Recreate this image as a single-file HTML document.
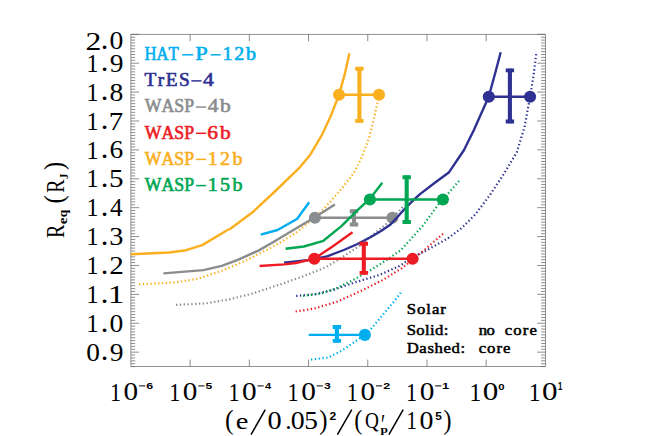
<!DOCTYPE html>
<html><head><meta charset="utf-8"><title>Req vs tidal parameter</title>
<style>
html,body{margin:0;padding:0;background:#fff;}
body{width:654px;height:436px;overflow:hidden;}
text{font-kerning:none;}
svg{display:block;position:absolute;left:0;top:0;font-family:"Liberation Serif",serif;}
</style></head><body>
<svg width="654" height="436" viewBox="0 0 654 436">
<rect width="654" height="436" fill="#fff"/>
<path d="M130.90 366.60h4.3M545.40 366.60h-4.3M130.90 363.71h4.3M545.40 363.71h-4.3M130.90 360.82h4.3M545.40 360.82h-4.3M130.90 357.93h4.3M545.40 357.93h-4.3M130.90 355.04h4.3M545.40 355.04h-4.3M130.90 352.15h8.2M545.40 352.15h-8.2M130.90 349.26h4.3M545.40 349.26h-4.3M130.90 346.37h4.3M545.40 346.37h-4.3M130.90 343.48h4.3M545.40 343.48h-4.3M130.90 340.59h4.3M545.40 340.59h-4.3M130.90 337.70h4.3M545.40 337.70h-4.3M130.90 334.81h4.3M545.40 334.81h-4.3M130.90 331.93h4.3M545.40 331.93h-4.3M130.90 329.04h4.3M545.40 329.04h-4.3M130.90 326.15h4.3M545.40 326.15h-4.3M130.90 323.26h8.2M545.40 323.26h-8.2M130.90 320.37h4.3M545.40 320.37h-4.3M130.90 317.48h4.3M545.40 317.48h-4.3M130.90 314.59h4.3M545.40 314.59h-4.3M130.90 311.70h4.3M545.40 311.70h-4.3M130.90 308.81h4.3M545.40 308.81h-4.3M130.90 305.92h4.3M545.40 305.92h-4.3M130.90 303.03h4.3M545.40 303.03h-4.3M130.90 300.14h4.3M545.40 300.14h-4.3M130.90 297.25h4.3M545.40 297.25h-4.3M130.90 294.36h8.2M545.40 294.36h-8.2M130.90 291.47h4.3M545.40 291.47h-4.3M130.90 288.58h4.3M545.40 288.58h-4.3M130.90 285.69h4.3M545.40 285.69h-4.3M130.90 282.80h4.3M545.40 282.80h-4.3M130.90 279.91h4.3M545.40 279.91h-4.3M130.90 277.02h4.3M545.40 277.02h-4.3M130.90 274.13h4.3M545.40 274.13h-4.3M130.90 271.24h4.3M545.40 271.24h-4.3M130.90 268.35h4.3M545.40 268.35h-4.3M130.90 265.47h8.2M545.40 265.47h-8.2M130.90 262.58h4.3M545.40 262.58h-4.3M130.90 259.69h4.3M545.40 259.69h-4.3M130.90 256.80h4.3M545.40 256.80h-4.3M130.90 253.91h4.3M545.40 253.91h-4.3M130.90 251.02h4.3M545.40 251.02h-4.3M130.90 248.13h4.3M545.40 248.13h-4.3M130.90 245.24h4.3M545.40 245.24h-4.3M130.90 242.35h4.3M545.40 242.35h-4.3M130.90 239.46h4.3M545.40 239.46h-4.3M130.90 236.57h8.2M545.40 236.57h-8.2M130.90 233.68h4.3M545.40 233.68h-4.3M130.90 230.79h4.3M545.40 230.79h-4.3M130.90 227.90h4.3M545.40 227.90h-4.3M130.90 225.01h4.3M545.40 225.01h-4.3M130.90 222.12h4.3M545.40 222.12h-4.3M130.90 219.23h4.3M545.40 219.23h-4.3M130.90 216.34h4.3M545.40 216.34h-4.3M130.90 213.45h4.3M545.40 213.45h-4.3M130.90 210.56h4.3M545.40 210.56h-4.3M130.90 207.67h8.2M545.40 207.67h-8.2M130.90 204.78h4.3M545.40 204.78h-4.3M130.90 201.89h4.3M545.40 201.89h-4.3M130.90 199.01h4.3M545.40 199.01h-4.3M130.90 196.12h4.3M545.40 196.12h-4.3M130.90 193.23h4.3M545.40 193.23h-4.3M130.90 190.34h4.3M545.40 190.34h-4.3M130.90 187.45h4.3M545.40 187.45h-4.3M130.90 184.56h4.3M545.40 184.56h-4.3M130.90 181.67h4.3M545.40 181.67h-4.3M130.90 178.78h8.2M545.40 178.78h-8.2M130.90 175.89h4.3M545.40 175.89h-4.3M130.90 173.00h4.3M545.40 173.00h-4.3M130.90 170.11h4.3M545.40 170.11h-4.3M130.90 167.22h4.3M545.40 167.22h-4.3M130.90 164.33h4.3M545.40 164.33h-4.3M130.90 161.44h4.3M545.40 161.44h-4.3M130.90 158.55h4.3M545.40 158.55h-4.3M130.90 155.66h4.3M545.40 155.66h-4.3M130.90 152.77h4.3M545.40 152.77h-4.3M130.90 149.88h8.2M545.40 149.88h-8.2M130.90 146.99h4.3M545.40 146.99h-4.3M130.90 144.10h4.3M545.40 144.10h-4.3M130.90 141.21h4.3M545.40 141.21h-4.3M130.90 138.32h4.3M545.40 138.32h-4.3M130.90 135.43h4.3M545.40 135.43h-4.3M130.90 132.55h4.3M545.40 132.55h-4.3M130.90 129.66h4.3M545.40 129.66h-4.3M130.90 126.77h4.3M545.40 126.77h-4.3M130.90 123.88h4.3M545.40 123.88h-4.3M130.90 120.99h8.2M545.40 120.99h-8.2M130.90 118.10h4.3M545.40 118.10h-4.3M130.90 115.21h4.3M545.40 115.21h-4.3M130.90 112.32h4.3M545.40 112.32h-4.3M130.90 109.43h4.3M545.40 109.43h-4.3M130.90 106.54h4.3M545.40 106.54h-4.3M130.90 103.65h4.3M545.40 103.65h-4.3M130.90 100.76h4.3M545.40 100.76h-4.3M130.90 97.87h4.3M545.40 97.87h-4.3M130.90 94.98h4.3M545.40 94.98h-4.3M130.90 92.09h8.2M545.40 92.09h-8.2M130.90 89.20h4.3M545.40 89.20h-4.3M130.90 86.31h4.3M545.40 86.31h-4.3M130.90 83.42h4.3M545.40 83.42h-4.3M130.90 80.53h4.3M545.40 80.53h-4.3M130.90 77.64h4.3M545.40 77.64h-4.3M130.90 74.75h4.3M545.40 74.75h-4.3M130.90 71.86h4.3M545.40 71.86h-4.3M130.90 68.97h4.3M545.40 68.97h-4.3M130.90 66.09h4.3M545.40 66.09h-4.3M130.90 63.20h8.2M545.40 63.20h-8.2M130.90 60.31h4.3M545.40 60.31h-4.3M130.90 57.42h4.3M545.40 57.42h-4.3M130.90 54.53h4.3M545.40 54.53h-4.3M130.90 51.64h4.3M545.40 51.64h-4.3M130.90 48.75h4.3M545.40 48.75h-4.3M130.90 45.86h4.3M545.40 45.86h-4.3M130.90 42.97h4.3M545.40 42.97h-4.3M130.90 40.08h4.3M545.40 40.08h-4.3M130.90 37.19h4.3M545.40 37.19h-4.3M130.90 34.30h8.2M545.40 34.30h-8.2M190.11 34.30v7M190.11 366.60v-7M249.33 34.30v7M249.33 366.60v-7M308.54 34.30v7M308.54 366.60v-7M367.76 34.30v7M367.76 366.60v-7M426.97 34.30v7M426.97 366.60v-7M486.19 34.30v7M486.19 366.60v-7" stroke="#505050" stroke-width="0.65" fill="none"/>
<rect x="130.9" y="34.3" width="414.50" height="332.30" fill="none" stroke="#666" stroke-width="0.7"/>
<path d="M139.0 284.4 L175.9 282.3 L198.8 278.6 L221.7 270.8 L244.7 261.0 L267.6 249.5 L280.0 242.6 L295.9 232.8 L318.8 214.4 L337.2 193.8 L342.6 187.5 L354.1 172.6 L362.1 156.5 L369.0 138.2 L373.6 119.8 L377.5 102.6 L378.6 96.0" fill="none" stroke="#FAAF1E" stroke-width="2.2" stroke-linejoin="round" stroke-dasharray="1.35 2.47"/>
<path d="M131.0 254.3 L169.0 252.5 L186.2 250.2 L202.2 245.1 L227.5 230.0 L230.0 229.0 L252.9 212.0 L275.9 190.5 L298.8 168.4 L310.3 154.7 L321.7 135.4 L330.9 115.7 L339.2 94.1 L344.7 74.4 L349.4 53.2" fill="none" stroke="#FAAF1E" stroke-width="2.4" stroke-linejoin="round"/>
<path d="M339 94.7H379" stroke="#FAAF1E" stroke-width="2.4" fill="none"/>
<path d="M359.4 67.10000000000001V122.5" stroke="#FAAF1E" stroke-width="4.1" fill="none"/>
<path d="M355.2 68.75000000000001h8.4M355.2 120.85h8.4" stroke="#FAAF1E" stroke-width="3.9" fill="none"/>
<circle cx="339" cy="94.7" r="6.05" fill="#FAAF1E"/>
<circle cx="379" cy="94.7" r="6.05" fill="#FAAF1E"/>
<path d="M176.0 304.9 L205.7 303.4 L228.6 299.5 L251.6 293.8 L280.0 284.5 L302.9 276.4 L325.9 267.2 L341.9 257.5 L359.6 245.7 L375.4 232.6 L385.0 225.0 L399.5 210.6 L404.3 204.9" fill="none" stroke="#8A8C8E" stroke-width="2.2" stroke-linejoin="round" stroke-dasharray="1.35 2.47"/>
<path d="M163.4 273.4 L203.4 270.1 L221.7 265.8 L237.8 259.8 L258.4 250.6 L273.0 242.3 L295.9 228.5 L314.9 217.3 L334.9 204.5" fill="none" stroke="#8A8C8E" stroke-width="2.4" stroke-linejoin="round"/>
<path d="M314.9 217.7H392.4" stroke="#8A8C8E" stroke-width="2.4" fill="none"/>
<path d="M354.0 209.6V226.10000000000002" stroke="#8A8C8E" stroke-width="4.1" fill="none"/>
<path d="M349.8 211.25h8.4M349.8 224.45000000000002h8.4" stroke="#8A8C8E" stroke-width="3.9" fill="none"/>
<circle cx="314.9" cy="217.7" r="6.05" fill="#8A8C8E"/>
<circle cx="392.4" cy="217.7" r="6.05" fill="#8A8C8E"/>
<path d="M311.0 359.6 L328.2 357.5 L341.9 350.6 L358.0 339.6 L371.7 328.2 L383.2 314.4 L394.7 300.5 L400.9 292.5" fill="none" stroke="#00AEEF" stroke-width="2.2" stroke-linejoin="round" stroke-dasharray="1.35 2.47"/>
<path d="M260.7 234.6 L277.5 230.0 L297.0 219.0 L309.2 202.2" fill="none" stroke="#00AEEF" stroke-width="2.4" stroke-linejoin="round"/>
<path d="M308.7 334.9H364.9" stroke="#00AEEF" stroke-width="2.4" fill="none"/>
<path d="M336.9 325.4V342.5" stroke="#00AEEF" stroke-width="4.1" fill="none"/>
<path d="M332.7 327.04999999999995h8.4M332.7 340.85h8.4" stroke="#00AEEF" stroke-width="3.9" fill="none"/>
<circle cx="364.9" cy="334.9" r="6.05" fill="#00AEEF"/>
<path d="M296.1 295.9 L314.4 294.3 L332.8 290.1 L355.7 282.1 L378.6 275.2 L399.3 266.1 L413.0 256.9 L427.3 250.0 L448.0 238.3 L461.7 228.0 L475.5 214.2 L489.3 195.9 L503.0 175.2 L516.8 152.3 L524.4 127.5 L530.1 96.7 L533.5 75.9 L536.5 51.8" fill="none" stroke="#2E3192" stroke-width="2.2" stroke-linejoin="round" stroke-dasharray="1.35 2.47"/>
<path d="M284.0 262.6 L307.3 260.3 L325.7 256.8 L343.8 250.0 L357.5 244.0 L371.3 236.8 L381.0 231.0 L390.5 224.4 L397.5 217.0 L404.3 209.3 L412.0 201.5 L420.0 194.1 L434.2 183.3 L449.1 172.2 L464.0 150.0 L473.9 130.0 L488.8 96.5 L495.7 71.3 L500.7 52.2" fill="none" stroke="#2E3192" stroke-width="2.4" stroke-linejoin="round"/>
<path d="M488.8 96.7H530.1" stroke="#2E3192" stroke-width="2.4" fill="none"/>
<path d="M509.9 68.7V123.2" stroke="#2E3192" stroke-width="4.1" fill="none"/>
<path d="M505.7 70.35000000000001h8.4M505.7 121.55h8.4" stroke="#2E3192" stroke-width="3.9" fill="none"/>
<circle cx="488.8" cy="96.7" r="6.05" fill="#2E3192"/>
<circle cx="530.1" cy="96.7" r="6.05" fill="#2E3192"/>
<path d="M303.0 295.9 L321.3 293.6 L337.3 287.8 L355.7 278.7 L371.7 269.5 L387.8 259.2 L401.0 250.0 L422.8 225.7 L438.8 203.9 L449.1 192.4 L459.0 181.0" fill="none" stroke="#00A651" stroke-width="2.2" stroke-linejoin="round" stroke-dasharray="1.35 2.47"/>
<path d="M285.6 248.8 L303.9 246.5 L323.4 240.8 L341.7 225.9 L357.8 209.8 L369.7 199.0 L382.3 182.8" fill="none" stroke="#00A651" stroke-width="2.4" stroke-linejoin="round"/>
<path d="M369.9 199.5H442.9" stroke="#00A651" stroke-width="2.4" fill="none"/>
<path d="M406.7 175.6V223.70000000000002" stroke="#00A651" stroke-width="4.1" fill="none"/>
<path d="M402.5 177.25h8.4M402.5 222.05h8.4" stroke="#00A651" stroke-width="3.9" fill="none"/>
<circle cx="369.9" cy="199.5" r="6.05" fill="#00A651"/>
<circle cx="442.9" cy="199.5" r="6.05" fill="#00A651"/>
<path d="M295.6 311.5 L314.4 308.5 L337.3 301.6 L360.3 291.3 L383.2 279.8 L401.6 268.3 L417.6 255.7 L424.5 250.0 L443.0 233.7" fill="none" stroke="#ED1C24" stroke-width="2.2" stroke-linejoin="round" stroke-dasharray="1.35 2.47"/>
<path d="M259.6 266.0 L284.4 264.4 L295.9 263.0 L314.2 258.7 L332.6 246.5 L352.5 232.3" fill="none" stroke="#ED1C24" stroke-width="2.4" stroke-linejoin="round"/>
<path d="M314.3 258.7H412.6" stroke="#ED1C24" stroke-width="2.4" fill="none"/>
<path d="M363.8 242.1V274.5" stroke="#ED1C24" stroke-width="4.1" fill="none"/>
<path d="M359.6 243.75h8.4M359.6 272.85h8.4" stroke="#ED1C24" stroke-width="3.9" fill="none"/>
<circle cx="314.3" cy="258.7" r="6.05" fill="#ED1C24"/>
<circle cx="412.6" cy="258.7" r="6.05" fill="#ED1C24"/>
<text transform="matrix(0.1662 0 0 0.1786 144.62 60.05)" font-size="100" font-family='"Liberation Serif",serif' fill="#00AEEF" stroke="#00AEEF" stroke-width="3.60">H</text>
<text transform="matrix(0.1662 0 0 0.1786 156.62 60.05)" font-size="100" font-family='"Liberation Serif",serif' fill="#00AEEF" stroke="#00AEEF" stroke-width="3.60">A</text>
<text transform="matrix(0.1662 0 0 0.1786 168.62 60.05)" font-size="100" font-family='"Liberation Serif",serif' fill="#00AEEF" stroke="#00AEEF" stroke-width="3.60">T</text>
<path d="M182.2 54.8H193.2" stroke="#00AEEF" stroke-width="1.5" fill="none"/>
<text transform="matrix(0.2257 0 0 0.1786 195.35 60.05)" font-size="100" font-family='"Liberation Serif",serif' fill="#00AEEF" stroke="#00AEEF" stroke-width="3.07">P</text>
<path d="M210.6 54.8H220.7" stroke="#00AEEF" stroke-width="1.5" fill="none"/>
<text transform="matrix(0.2001 0 0 0.1786 222.54 60.05)" font-size="100" font-family='"Liberation Serif",serif' fill="#00AEEF" stroke="#00AEEF" stroke-width="3.27">1</text>
<text transform="matrix(0.2001 0 0 0.1786 234.25 60.05)" font-size="100" font-family='"Liberation Serif",serif' fill="#00AEEF" stroke="#00AEEF" stroke-width="3.27">2</text>
<text transform="matrix(0.2001 0 0 0.1786 245.96 60.05)" font-size="100" font-family='"Liberation Serif",serif' fill="#00AEEF" stroke="#00AEEF" stroke-width="3.27">b</text>
<text transform="matrix(0.1929 0 0 0.1786 144.45 86.20)" font-size="100" font-family='"Liberation Serif",serif' fill="#2E3192" stroke="#2E3192" stroke-width="3.34">T</text>
<text transform="matrix(0.1929 0 0 0.1786 157.78 86.20)" font-size="100" font-family='"Liberation Serif",serif' fill="#2E3192" stroke="#2E3192" stroke-width="3.34">r</text>
<text transform="matrix(0.1929 0 0 0.1786 165.74 86.20)" font-size="100" font-family='"Liberation Serif",serif' fill="#2E3192" stroke="#2E3192" stroke-width="3.34">E</text>
<text transform="matrix(0.1929 0 0 0.1786 179.07 86.20)" font-size="100" font-family='"Liberation Serif",serif' fill="#2E3192" stroke="#2E3192" stroke-width="3.34">S</text>
<path d="M191.4 80.9H201.5" stroke="#2E3192" stroke-width="1.5" fill="none"/>
<text transform="matrix(0.2173 0 0 0.1786 202.88 86.20)" font-size="100" font-family='"Liberation Serif",serif' fill="#2E3192" stroke="#2E3192" stroke-width="3.13">4</text>
<text transform="matrix(0.1772 0 0 0.1786 144.78 112.35)" font-size="100" font-family='"Liberation Serif",serif' fill="#8A8C8E" stroke="#8A8C8E" stroke-width="3.49">W</text>
<text transform="matrix(0.1772 0 0 0.1786 161.51 112.35)" font-size="100" font-family='"Liberation Serif",serif' fill="#8A8C8E" stroke="#8A8C8E" stroke-width="3.49">A</text>
<text transform="matrix(0.1772 0 0 0.1786 174.30 112.35)" font-size="100" font-family='"Liberation Serif",serif' fill="#8A8C8E" stroke="#8A8C8E" stroke-width="3.49">S</text>
<text transform="matrix(0.1772 0 0 0.1786 184.16 112.35)" font-size="100" font-family='"Liberation Serif",serif' fill="#8A8C8E" stroke="#8A8C8E" stroke-width="3.49">P</text>
<path d="M196.0 107.1H206.1" stroke="#8A8C8E" stroke-width="1.5" fill="none"/>
<text transform="matrix(0.2144 0 0 0.1786 207.78 112.35)" font-size="100" font-family='"Liberation Serif",serif' fill="#8A8C8E" stroke="#8A8C8E" stroke-width="3.16">4</text>
<text transform="matrix(0.2144 0 0 0.1786 220.10 112.35)" font-size="100" font-family='"Liberation Serif",serif' fill="#8A8C8E" stroke="#8A8C8E" stroke-width="3.16">b</text>
<text transform="matrix(0.1772 0 0 0.1786 144.78 138.50)" font-size="100" font-family='"Liberation Serif",serif' fill="#ED1C24" stroke="#ED1C24" stroke-width="3.49">W</text>
<text transform="matrix(0.1772 0 0 0.1786 161.51 138.50)" font-size="100" font-family='"Liberation Serif",serif' fill="#ED1C24" stroke="#ED1C24" stroke-width="3.49">A</text>
<text transform="matrix(0.1772 0 0 0.1786 174.30 138.50)" font-size="100" font-family='"Liberation Serif",serif' fill="#ED1C24" stroke="#ED1C24" stroke-width="3.49">S</text>
<text transform="matrix(0.1772 0 0 0.1786 184.16 138.50)" font-size="100" font-family='"Liberation Serif",serif' fill="#ED1C24" stroke="#ED1C24" stroke-width="3.49">P</text>
<path d="M196.0 133.3H206.1" stroke="#ED1C24" stroke-width="1.5" fill="none"/>
<text transform="matrix(0.2144 0 0 0.1786 207.28 138.50)" font-size="100" font-family='"Liberation Serif",serif' fill="#ED1C24" stroke="#ED1C24" stroke-width="3.16">6</text>
<text transform="matrix(0.2144 0 0 0.1786 220.10 138.50)" font-size="100" font-family='"Liberation Serif",serif' fill="#ED1C24" stroke="#ED1C24" stroke-width="3.16">b</text>
<text transform="matrix(0.1772 0 0 0.1786 144.78 164.65)" font-size="100" font-family='"Liberation Serif",serif' fill="#FAAF1E" stroke="#FAAF1E" stroke-width="3.49">W</text>
<text transform="matrix(0.1772 0 0 0.1786 161.51 164.65)" font-size="100" font-family='"Liberation Serif",serif' fill="#FAAF1E" stroke="#FAAF1E" stroke-width="3.49">A</text>
<text transform="matrix(0.1772 0 0 0.1786 174.30 164.65)" font-size="100" font-family='"Liberation Serif",serif' fill="#FAAF1E" stroke="#FAAF1E" stroke-width="3.49">S</text>
<text transform="matrix(0.1772 0 0 0.1786 184.16 164.65)" font-size="100" font-family='"Liberation Serif",serif' fill="#FAAF1E" stroke="#FAAF1E" stroke-width="3.49">P</text>
<path d="M196.0 159.4H206.1" stroke="#FAAF1E" stroke-width="1.5" fill="none"/>
<text transform="matrix(0.2001 0 0 0.1786 207.74 164.65)" font-size="100" font-family='"Liberation Serif",serif' fill="#FAAF1E" stroke="#FAAF1E" stroke-width="3.27">1</text>
<text transform="matrix(0.2001 0 0 0.1786 220.10 164.65)" font-size="100" font-family='"Liberation Serif",serif' fill="#FAAF1E" stroke="#FAAF1E" stroke-width="3.27">2</text>
<text transform="matrix(0.2001 0 0 0.1786 232.46 164.65)" font-size="100" font-family='"Liberation Serif",serif' fill="#FAAF1E" stroke="#FAAF1E" stroke-width="3.27">b</text>
<text transform="matrix(0.1772 0 0 0.1786 144.78 190.80)" font-size="100" font-family='"Liberation Serif",serif' fill="#00A651" stroke="#00A651" stroke-width="3.49">W</text>
<text transform="matrix(0.1772 0 0 0.1786 161.51 190.80)" font-size="100" font-family='"Liberation Serif",serif' fill="#00A651" stroke="#00A651" stroke-width="3.49">A</text>
<text transform="matrix(0.1772 0 0 0.1786 174.30 190.80)" font-size="100" font-family='"Liberation Serif",serif' fill="#00A651" stroke="#00A651" stroke-width="3.49">S</text>
<text transform="matrix(0.1772 0 0 0.1786 184.16 190.80)" font-size="100" font-family='"Liberation Serif",serif' fill="#00A651" stroke="#00A651" stroke-width="3.49">P</text>
<path d="M196.0 185.6H206.1" stroke="#00A651" stroke-width="1.5" fill="none"/>
<text transform="matrix(0.2001 0 0 0.1786 207.74 190.80)" font-size="100" font-family='"Liberation Serif",serif' fill="#00A651" stroke="#00A651" stroke-width="3.27">1</text>
<text transform="matrix(0.2001 0 0 0.1786 220.10 190.80)" font-size="100" font-family='"Liberation Serif",serif' fill="#00A651" stroke="#00A651" stroke-width="3.27">5</text>
<text transform="matrix(0.2001 0 0 0.1786 232.46 190.80)" font-size="100" font-family='"Liberation Serif",serif' fill="#00A651" stroke="#00A651" stroke-width="3.27">b</text>
<text transform="translate(406.7,313.6) scale(1.15,1)" font-size="14.5" fill="#000" textLength="34.1" lengthAdjust="spacing" stroke="#000" stroke-width="0.5">Solar</text>
<text transform="translate(406.7,335.2) scale(1.15,1)" font-size="14.5" fill="#000" textLength="36.2" lengthAdjust="spacing" stroke="#000" stroke-width="0.5">Solid:</text>
<text transform="translate(478.7,335.2) scale(1.15,1)" font-size="14.5" fill="#000" textLength="14.0" lengthAdjust="spacing" stroke="#000" stroke-width="0.5">no</text>
<text transform="translate(504.8,335.2) scale(1.15,1)" font-size="14.5" fill="#000" textLength="27.9" lengthAdjust="spacing" stroke="#000" stroke-width="0.5">core</text>
<text transform="translate(406.7,352.8) scale(1.15,1)" font-size="14.5" fill="#000" textLength="50.9" lengthAdjust="spacing" stroke="#000" stroke-width="0.5">Dashed:</text>
<text transform="translate(478.7,352.8) scale(1.15,1)" font-size="14.5" fill="#000" textLength="27.5" lengthAdjust="spacing" stroke="#000" stroke-width="0.5">core</text>
<text transform="matrix(0.3168 0 0 0.2568 85.51 49.70)" font-size="100" font-family='"Liberation Serif",serif' fill="#000">2</text>
<text transform="matrix(0.3047 0 0 0.2877 100.79 49.29)" font-size="100" font-family='"Liberation Serif",serif' fill="#000">.</text>
<text transform="matrix(0.2761 0 0 0.2519 109.55 49.45)" font-size="100" font-family='"Liberation Serif",serif' fill="#000">0</text>
<text transform="matrix(0.2414 0 0 0.2575 86.58 71.85)" font-size="100" font-family='"Liberation Serif",serif' fill="#000">1</text>
<text transform="matrix(0.3047 0 0 0.2877 100.79 71.44)" font-size="100" font-family='"Liberation Serif",serif' fill="#000">.</text>
<text transform="matrix(0.2742 0 0 0.2530 109.72 71.60)" font-size="100" font-family='"Liberation Serif",serif' fill="#000">9</text>
<text transform="matrix(0.2414 0 0 0.2575 86.58 100.74)" font-size="100" font-family='"Liberation Serif",serif' fill="#000">1</text>
<text transform="matrix(0.3047 0 0 0.2877 100.79 100.33)" font-size="100" font-family='"Liberation Serif",serif' fill="#000">.</text>
<text transform="matrix(0.2761 0 0 0.2519 109.55 100.50)" font-size="100" font-family='"Liberation Serif",serif' fill="#000">8</text>
<text transform="matrix(0.2414 0 0 0.2575 86.58 129.64)" font-size="100" font-family='"Liberation Serif",serif' fill="#000">1</text>
<text transform="matrix(0.3047 0 0 0.2877 100.79 129.23)" font-size="100" font-family='"Liberation Serif",serif' fill="#000">.</text>
<text transform="matrix(0.2887 0 0 0.2596 108.70 129.64)" font-size="100" font-family='"Liberation Serif",serif' fill="#000">7</text>
<text transform="matrix(0.2414 0 0 0.2575 86.58 158.53)" font-size="100" font-family='"Liberation Serif",serif' fill="#000">1</text>
<text transform="matrix(0.3047 0 0 0.2877 100.79 158.13)" font-size="100" font-family='"Liberation Serif",serif' fill="#000">.</text>
<text transform="matrix(0.2738 0 0 0.2530 109.42 158.29)" font-size="100" font-family='"Liberation Serif",serif' fill="#000">6</text>
<text transform="matrix(0.2414 0 0 0.2575 86.58 187.43)" font-size="100" font-family='"Liberation Serif",serif' fill="#000">1</text>
<text transform="matrix(0.3047 0 0 0.2877 100.79 187.02)" font-size="100" font-family='"Liberation Serif",serif' fill="#000">.</text>
<text transform="matrix(0.2904 0 0 0.2558 108.91 187.18)" font-size="100" font-family='"Liberation Serif",serif' fill="#000">5</text>
<text transform="matrix(0.2414 0 0 0.2575 86.58 216.32)" font-size="100" font-family='"Liberation Serif",serif' fill="#000">1</text>
<text transform="matrix(0.3047 0 0 0.2877 100.79 215.92)" font-size="100" font-family='"Liberation Serif",serif' fill="#000">.</text>
<text transform="matrix(0.2517 0 0 0.2583 110.11 216.32)" font-size="100" font-family='"Liberation Serif",serif' fill="#000">4</text>
<text transform="matrix(0.2414 0 0 0.2575 86.58 245.22)" font-size="100" font-family='"Liberation Serif",serif' fill="#000">1</text>
<text transform="matrix(0.3047 0 0 0.2877 100.79 244.81)" font-size="100" font-family='"Liberation Serif",serif' fill="#000">.</text>
<text transform="matrix(0.2832 0 0 0.2530 109.24 244.97)" font-size="100" font-family='"Liberation Serif",serif' fill="#000">3</text>
<text transform="matrix(0.2414 0 0 0.2575 86.58 274.12)" font-size="100" font-family='"Liberation Serif",serif' fill="#000">1</text>
<text transform="matrix(0.3047 0 0 0.2877 100.79 273.71)" font-size="100" font-family='"Liberation Serif",serif' fill="#000">.</text>
<text transform="matrix(0.2919 0 0 0.2568 109.32 274.12)" font-size="100" font-family='"Liberation Serif",serif' fill="#000">2</text>
<text transform="matrix(0.2414 0 0 0.2575 86.58 303.01)" font-size="100" font-family='"Liberation Serif",serif' fill="#000">1</text>
<text transform="matrix(0.3047 0 0 0.2877 100.79 302.60)" font-size="100" font-family='"Liberation Serif",serif' fill="#000">.</text>
<text transform="matrix(0.3323 0 0 0.2575 107.68 303.01)" font-size="100" font-family='"Liberation Serif",serif' fill="#000">1</text>
<text transform="matrix(0.2414 0 0 0.2575 86.58 331.91)" font-size="100" font-family='"Liberation Serif",serif' fill="#000">1</text>
<text transform="matrix(0.3047 0 0 0.2877 100.79 331.50)" font-size="100" font-family='"Liberation Serif",serif' fill="#000">.</text>
<text transform="matrix(0.2761 0 0 0.2519 109.55 331.66)" font-size="100" font-family='"Liberation Serif",serif' fill="#000">0</text>
<text transform="matrix(0.2737 0 0 0.2519 86.26 360.56)" font-size="100" font-family='"Liberation Serif",serif' fill="#000">0</text>
<text transform="matrix(0.3047 0 0 0.2877 100.79 360.39)" font-size="100" font-family='"Liberation Serif",serif' fill="#000">.</text>
<text transform="matrix(0.2742 0 0 0.2530 109.72 360.56)" font-size="100" font-family='"Liberation Serif",serif' fill="#000">9</text>
<text transform="matrix(0.2216 0 0 0.2515 109.95 400.50)" font-size="100" font-family='"Liberation Serif",serif' fill="#000">1</text>
<text transform="matrix(0.2926 0 0 0.2519 123.59 400.45)" font-size="100" font-family='"Liberation Serif",serif' fill="#000">0</text>
<path d="M139.1 385.9h6.2" stroke="#000" stroke-width="1" fill="none"/>
<text transform="matrix(0.1241 0 0 0.0960 146.25 388.81)" font-size="100" font-family='"Liberation Sans",sans-serif' font-weight="bold" fill="#000">6</text>
<text transform="matrix(0.2216 0 0 0.2515 169.17 400.50)" font-size="100" font-family='"Liberation Serif",serif' fill="#000">1</text>
<text transform="matrix(0.2926 0 0 0.2519 182.80 400.45)" font-size="100" font-family='"Liberation Serif",serif' fill="#000">0</text>
<path d="M198.3 385.9h6.2" stroke="#000" stroke-width="1" fill="none"/>
<text transform="matrix(0.1206 0 0 0.0975 205.54 388.80)" font-size="100" font-family='"Liberation Sans",sans-serif' font-weight="bold" fill="#000">5</text>
<text transform="matrix(0.2216 0 0 0.2515 228.38 400.50)" font-size="100" font-family='"Liberation Serif",serif' fill="#000">1</text>
<text transform="matrix(0.2926 0 0 0.2519 242.01 400.45)" font-size="100" font-family='"Liberation Serif",serif' fill="#000">0</text>
<path d="M257.5 385.9h6.2" stroke="#000" stroke-width="1" fill="none"/>
<text transform="matrix(0.1120 0 0 0.0988 264.96 388.90)" font-size="100" font-family='"Liberation Sans",sans-serif' font-weight="bold" fill="#000">4</text>
<text transform="matrix(0.2216 0 0 0.2515 287.60 400.50)" font-size="100" font-family='"Liberation Serif",serif' fill="#000">1</text>
<text transform="matrix(0.2926 0 0 0.2519 301.23 400.45)" font-size="100" font-family='"Liberation Serif",serif' fill="#000">0</text>
<path d="M316.7 385.9h6.2" stroke="#000" stroke-width="1" fill="none"/>
<text transform="matrix(0.1207 0 0 0.0958 324.07 388.79)" font-size="100" font-family='"Liberation Sans",sans-serif' font-weight="bold" fill="#000">3</text>
<text transform="matrix(0.2216 0 0 0.2515 346.81 400.50)" font-size="100" font-family='"Liberation Serif",serif' fill="#000">1</text>
<text transform="matrix(0.2926 0 0 0.2519 360.44 400.45)" font-size="100" font-family='"Liberation Serif",serif' fill="#000">0</text>
<path d="M376.0 385.9h6.2" stroke="#000" stroke-width="1" fill="none"/>
<text transform="matrix(0.1246 0 0 0.0974 383.13 388.90)" font-size="100" font-family='"Liberation Sans",sans-serif' font-weight="bold" fill="#000">2</text>
<text transform="matrix(0.2216 0 0 0.2515 406.02 400.50)" font-size="100" font-family='"Liberation Serif",serif' fill="#000">1</text>
<text transform="matrix(0.2926 0 0 0.2519 419.66 400.45)" font-size="100" font-family='"Liberation Serif",serif' fill="#000">0</text>
<path d="M435.2 385.9h6.2" stroke="#000" stroke-width="1" fill="none"/>
<text transform="matrix(0.1289 0 0 0.0988 441.96 388.90)" font-size="100" font-family='"Liberation Sans",sans-serif' font-weight="bold" fill="#000">1</text>
<text transform="matrix(0.2358 0 0 0.2515 469.51 400.50)" font-size="100" font-family='"Liberation Serif",serif' fill="#000">1</text>
<text transform="matrix(0.3114 0 0 0.2519 482.80 400.45)" font-size="100" font-family='"Liberation Serif",serif' fill="#000">0</text>
<text transform="matrix(0.1135 0 0 0.0989 498.24 389.50)" font-size="100" font-family='"Liberation Sans",sans-serif' font-weight="bold" fill="#000">0</text>
<text transform="matrix(0.2358 0 0 0.2515 528.73 400.50)" font-size="100" font-family='"Liberation Serif",serif' fill="#000">1</text>
<text transform="matrix(0.3114 0 0 0.2519 542.01 400.45)" font-size="100" font-family='"Liberation Serif",serif' fill="#000">0</text>
<text transform="matrix(0.0774 0 0 0.1017 558.11 389.60)" font-size="100" font-family='"Liberation Sans",sans-serif' font-weight="bold" fill="#000">1</text>
<text transform="matrix(0.2570 0 0 0.2680 225.07 428.59)" font-size="100" font-family='"Liberation Serif",serif' fill="#000">(</text>
<text transform="matrix(0.2837 0 0 0.2391 235.79 428.87)" font-size="100" font-family='"Liberation Serif",serif' fill="#000">e</text>
<path d="M251.0 434.6L265.3 409.7" stroke="#000" stroke-width="1.5" fill="none"/>
<text transform="matrix(0.2831 0 0 0.2504 267.52 428.96)" font-size="100" font-family='"Liberation Serif",serif' fill="#000">0</text>
<text transform="matrix(0.2539 0 0 0.2623 285.23 428.63)" font-size="100" font-family='"Liberation Serif",serif' fill="#000">.</text>
<text transform="matrix(0.2784 0 0 0.2504 290.74 428.96)" font-size="100" font-family='"Liberation Serif",serif' fill="#000">0</text>
<text transform="matrix(0.2731 0 0 0.2513 304.21 428.95)" font-size="100" font-family='"Liberation Serif",serif' fill="#000">5</text>
<text transform="matrix(0.2492 0 0 0.2680 319.20 428.59)" font-size="100" font-family='"Liberation Serif",serif' fill="#000">)</text>
<text transform="matrix(0.1205 0 0 0.1045 329.58 420.10)" font-size="100" font-family='"Liberation Sans",sans-serif' font-weight="bold" fill="#000">2</text>
<path d="M337.4 434.6L351.8 409.7" stroke="#000" stroke-width="1.5" fill="none"/>
<text transform="matrix(0.2414 0 0 0.2680 354.24 428.59)" font-size="100" font-family='"Liberation Serif",serif' fill="#000">(</text>
<text transform="matrix(0.1928 0 0 0.2366 365.01 428.16)" font-size="100" font-family='"Liberation Serif",serif' fill="#000">Q</text>
<text transform="matrix(0.1915 0 0 0.2938 380.96 433.74)" font-size="100" font-family='"Liberation Serif",serif' fill="#000">′</text>
<text transform="matrix(0.1332 0 0 0.1082 380.53 433.40)" font-size="100" font-family='"Liberation Serif",serif' font-weight="bold" fill="#000">p</text>
<path d="M388.9 434.6L403.2 409.7" stroke="#000" stroke-width="1.5" fill="none"/>
<text transform="matrix(0.2074 0 0 0.2499 406.58 429.00)" font-size="100" font-family='"Liberation Serif",serif' fill="#000">1</text>
<text transform="matrix(0.2784 0 0 0.2504 419.54 428.96)" font-size="100" font-family='"Liberation Serif",serif' fill="#000">0</text>
<text transform="matrix(0.1186 0 0 0.1046 435.14 420.00)" font-size="100" font-family='"Liberation Sans",sans-serif' font-weight="bold" fill="#000">5</text>
<text transform="matrix(0.2414 0 0 0.2680 443.42 428.59)" font-size="100" font-family='"Liberation Serif",serif' fill="#000">)</text>
<g transform="translate(64.1,237.4) rotate(-90)">
<text transform="matrix(0.2010 0 0 0.2535 -0.58 0.00)" font-size="100" font-family='"Liberation Serif",serif' fill="#000">R</text>
<text transform="matrix(0.1511 0 0 0.1230 13.18 2.89)" font-size="100" font-family='"Liberation Serif",serif' font-weight="bold" fill="#000">e</text>
<text transform="matrix(0.1364 0 0 0.1268 20.04 3.20)" font-size="100" font-family='"Liberation Serif",serif' font-weight="bold" fill="#000">q</text>
<text transform="matrix(0.2492 0 0 0.2636 33.80 -1.01)" font-size="100" font-family='"Liberation Serif",serif' fill="#000">(</text>
<text transform="matrix(0.1979 0 0 0.2535 44.53 0.00)" font-size="100" font-family='"Liberation Serif",serif' fill="#000">R</text>
<text transform="matrix(0.1074 0 0 0.1294 58.42 3.87)" font-size="100" font-family='"Liberation Serif",serif' font-weight="bold" fill="#000">J</text>
<text transform="matrix(0.2453 0 0 0.2636 67.31 -1.01)" font-size="100" font-family='"Liberation Serif",serif' fill="#000">)</text>
</g>
</svg>
</body></html>
